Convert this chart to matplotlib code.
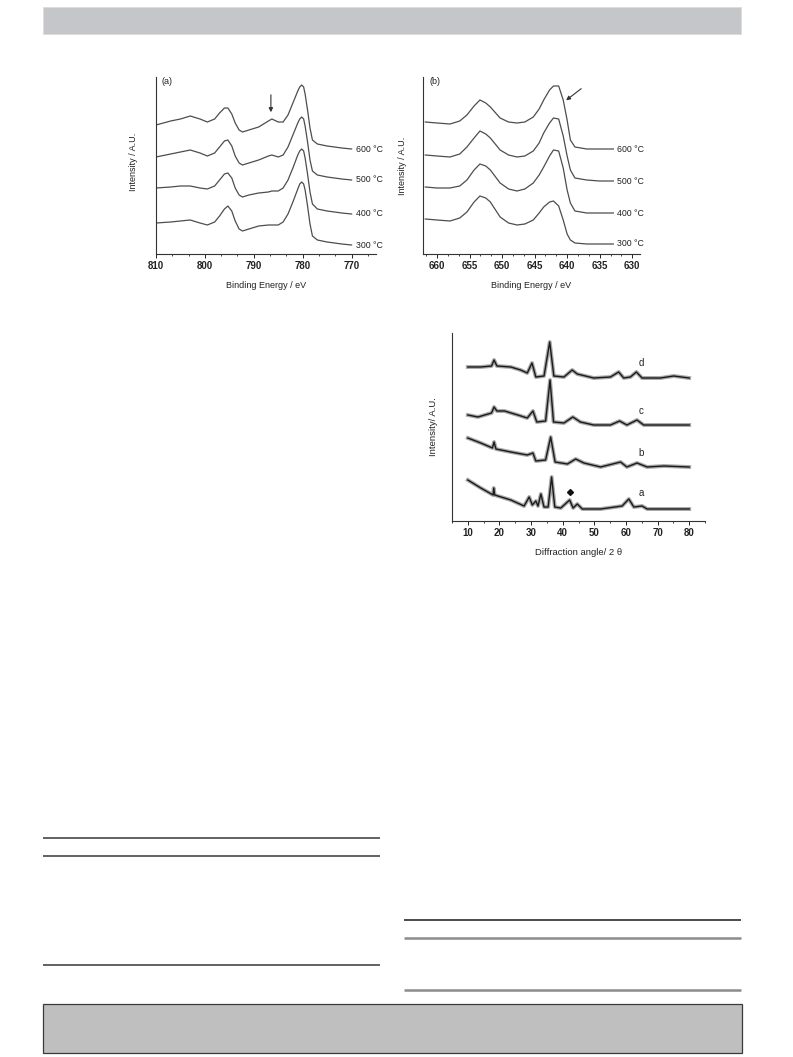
import numpy as np
import matplotlib
matplotlib.use('Agg')
import matplotlib.pyplot as plt
from matplotlib.patches import Rectangle
from matplotlib.ticker import MultipleLocator, AutoMinorLocator

plt.rcParams['font.family'] = ['Liberation Sans', 'DejaVu Sans']

W, H = 793, 1057

# ---- XPS (a): Co 2p region, offset traces (arb. units) ----
be_a = [810, 807, 805, 803, 801, 799.5, 798, 797, 796, 795.3, 794.5, 793.8, 793, 792.3,
        791, 789, 787, 786.3, 785, 784, 783, 782, 781, 780.6, 780.2, 779.8, 779.5, 779,
        778.5, 778, 777, 775, 772, 770]
a_300 = [31, 32, 33, 34, 31, 29, 32, 38, 45, 48, 43, 33, 25, 23,
         25, 28, 29, 29, 29, 32, 40, 52, 65, 70, 72, 70, 64, 48,
         30, 18, 14, 12, 10, 9]
a_400 = [66, 67, 68, 68, 66, 65, 68, 74, 80, 81, 76, 66, 59, 57,
         59, 61, 62, 63, 63, 66, 74, 86, 99, 103, 105, 103, 96, 80,
         62, 50, 45, 43, 41, 40]
a_500 = [97, 100, 102, 104, 101, 98, 101, 107, 113, 114, 108, 98, 91, 89,
         91, 94, 98, 99, 97, 99, 107, 119, 131, 135, 137, 135, 128, 112,
         94, 83, 79, 77, 75, 74]
a_600 = [129, 133, 135, 138, 135, 132, 135, 141, 146, 146, 140, 131, 124, 122,
         124, 127, 133, 135, 132, 132, 139, 151, 163, 167, 169, 167, 160, 144,
         126, 114, 110, 108, 106, 105]

# ---- XPS (b): Mn 2p region ----
be_b = [661.8, 660, 658, 656.5, 655.4, 654.3, 653.4, 652.5, 651.8, 650.3, 649, 647.7,
        646.5, 645.2, 644.3, 643.6, 642.7, 642.1, 641.3, 640.6, 640.0, 639.5, 638.8,
        637, 635, 632.9]
b_300 = [35, 34, 33, 36, 42, 52, 58, 56, 52, 37, 31, 29,
         30, 34, 41, 47, 52, 53, 48, 34, 20, 14, 11,
         10, 10, 10]
b_400 = [67, 66, 66, 68, 74, 84, 90, 88, 84, 71, 65, 63,
         65, 71, 79, 87, 98, 104, 103, 86, 64, 51, 43,
         41, 41, 41]
b_500 = [99, 98, 97, 100, 107, 116, 123, 120, 116, 104, 99, 97,
         98, 103, 111, 121, 131, 136, 135, 118, 98, 84, 76,
         74, 73, 73]
b_600 = [132, 131, 130, 133, 139, 148, 154, 151, 147, 136, 132, 131,
         132, 137, 145, 154, 164, 168, 168, 154, 134, 114, 107,
         105, 105, 105]

temps = ['300 °C', '400 °C', '500 °C', '600 °C']

# ---- XRD patterns a-d ----
tt_a = [10, 14.1, 18.0, 18.2, 18.5, 23.6, 27.8, 29.4, 30.4, 31.5, 32.2, 33.1, 34.1,
        35.4, 36.5, 37.5, 39.4, 42.2, 43.3, 44.6, 46.2, 52, 58.8, 60.9, 62.5, 65.1,
        66.7, 72, 80]
xrd_a = [41, 33, 26, 33, 26, 21, 15, 24, 16, 20, 15, 27, 14,
         14, 44, 14, 13, 21, 13, 17, 12, 12, 15, 22, 14, 15,
         12, 12, 12]
tt_b = [10, 14.1, 17.8, 18.3, 18.9, 23.6, 28.8, 30.6, 31.5, 34.6, 36.2, 37.6, 41.5,
        44.1, 46.7, 52, 58.3, 60.3, 63.5, 66.7, 72, 80]
xrd_b = [83, 78, 73, 79, 72, 69, 66, 68, 60, 61, 84, 59, 57,
         62, 58, 54, 59, 54, 58, 54, 55, 54]
tt_c = [10, 13.2, 17.5, 18.3, 19.2, 21.6, 25.8, 28.8, 30.6, 31.8, 34.6, 36.0, 37.1,
        40.4, 43.2, 45.6, 49.8, 55.1, 58.0, 60.3, 63.5, 65.6, 72, 80]
xrd_c = [106, 104, 108, 114, 110, 110, 106, 103, 110, 99, 100, 141, 99,
         98, 104, 99, 96, 96, 100, 96, 101, 96, 96, 96]
tt_d = [10, 14.1, 17.5, 18.3, 19.2, 23.6, 26.7, 28.8, 30.3, 31.5, 34.1, 35.9, 37.2,
        40.4, 43.0, 44.6, 49.8, 55.1, 57.7, 59.3, 61.4, 63.3, 65.1, 70.9, 75.1, 80]
xrd_d = [154, 154, 155, 161, 155, 154, 151, 148, 158, 144, 145, 179, 145,
         144, 151, 147, 143, 144, 149, 143, 144, 149, 143, 143, 145, 143]


def px_axes(fig, l, t, r, b):
    return fig.add_axes([l / W, 1 - b / H, (r - l) / W, (b - t) / H])


def style_axes(ax):
    for s in ['top', 'right']:
        ax.spines[s].set_visible(False)
    for s in ['left', 'bottom']:
        ax.spines[s].set_linewidth(0.8)
        ax.spines[s].set_color('#333333')
    ax.set_yticks([])
    ax.tick_params(axis='x', which='major', direction='out', length=2.6, width=0.7,
                   pad=2.2, labelsize=7, colors='#222222')
    ax.tick_params(axis='x', which='minor', direction='out', length=1.5, width=0.6,
                   colors='#222222')
    for lab in ax.get_xticklabels():
        lab.set_fontweight('bold')
    ax.patch.set_alpha(0)


fig = plt.figure(figsize=(W / 100, H / 100), dpi=100)

# page decoration layer in pixel coordinates
bg = fig.add_axes([0, 0, 1, 1], zorder=-5)
bg.set_xlim(0, W)
bg.set_ylim(H, 0)
bg.axis('off')
bg.add_patch(Rectangle((43, 7), 698, 27, facecolor='#c5c6ca', edgecolor='#dcdcdc', lw=0.6))
bg.add_patch(Rectangle((43, 1004), 699, 49, facecolor='#bfbfbf', edgecolor='#3a3a3a', lw=0.9))
for y in [838, 856, 965]:
    bg.plot([43, 380], [y, y], color='#555555', lw=1.3, solid_capstyle='butt')
bg.plot([404, 741], [920, 920], color='#1a1a1a', lw=1.1, solid_capstyle='butt')
for y in [938, 990]:
    bg.plot([404, 741], [y, y], color='#8c8c8c', lw=1.8, solid_capstyle='butt')

line_kw = dict(color='#4d4d4d', lw=0.9)

# ---- panel (a) ----
ax1 = px_axes(fig, 156, 77, 376, 254)
for ys, t in zip([a_300, a_400, a_500, a_600], temps):
    ax1.plot(be_a, ys, **line_kw)
    ax1.text(769, ys[-1], t, fontsize=6.3, va='center', ha='left', color='#222222')
ax1.set_xlim(810, 765)
ax1.set_ylim(0, 177)
ax1.xaxis.set_major_locator(MultipleLocator(10))
ax1.xaxis.set_minor_locator(AutoMinorLocator(3))
style_axes(ax1)
ax1.set_xlabel('Binding Energy / eV', fontsize=6.5, color='#222222')
ax1.set_ylabel('Intensity / A.U.', fontsize=6.5, color='#222222')
ax1.xaxis.set_label_coords(0.5, -0.155)
ax1.yaxis.set_label_coords(-0.082, 0.52)
ax1.text(808.8, 172, '(a)', fontsize=6.5, va='center', ha='left', color='#222222')
ax1.annotate('', xy=(786.5, 139), xytext=(786.5, 162),
             arrowprops=dict(arrowstyle='-|>', color='#333333', lw=0.8, mutation_scale=6))

# ---- panel (b) ----
ax2 = px_axes(fig, 423, 77, 640, 254)
for ys, t in zip([b_300, b_400, b_500, b_600], temps):
    ax2.plot(be_b, ys, **line_kw)
    ax2.text(632.3, ys[-1], t, fontsize=6.3, va='center', ha='left', color='#222222')
ax2.set_xlim(662.15, 628.8)
ax2.set_ylim(0, 177)
ax2.xaxis.set_major_locator(MultipleLocator(5))
ax2.xaxis.set_minor_locator(AutoMinorLocator(3))
style_axes(ax2)
ax2.set_xlabel('Binding Energy / eV', fontsize=6.5, color='#222222')
ax2.set_ylabel('Intensity / A.U.', fontsize=6.5, color='#222222')
ax2.xaxis.set_label_coords(0.5, -0.155)
ax2.yaxis.set_label_coords(-0.074, 0.5)
ax2.text(661.1, 172, '(b)', fontsize=6.5, va='center', ha='left', color='#222222')
ax2.annotate('', xy=(640.5, 152), xytext=(637.5, 167),
             arrowprops=dict(arrowstyle='-|>', color='#333333', lw=0.8, mutation_scale=6))

# ---- XRD panel ----
ax3 = px_axes(fig, 452, 333, 705, 521)
for tt, ys, lab, ly in zip([tt_a, tt_b, tt_c, tt_d], [xrd_a, xrd_b, xrd_c, xrd_d],
                           ['a', 'b', 'c', 'd'], [28, 68, 110, 158]):
    ax3.plot(tt, ys, color='#a8a8a8', lw=2.8, solid_joinstyle='round')
    ax3.plot(tt, ys, color='#1a1a1a', lw=1.0)
    ax3.text(64.0, ly, lab, fontsize=7, va='center', ha='left', color='#222222')
ax3.plot([42.2], [29], marker='D', ms=3, color='#111111', ls='none')
ax3.set_xlim(5, 85)
ax3.set_ylim(0, 188)
ax3.xaxis.set_major_locator(MultipleLocator(10))
ax3.xaxis.set_minor_locator(MultipleLocator(5))
style_axes(ax3)
ax3.set_xlabel('Diffraction angle/ 2 θ', fontsize=6.8, color='#222222')
ax3.set_ylabel('Intensity/ A.U.', fontsize=6.8, color='#222222')
ax3.xaxis.set_label_coords(0.5, -0.145)
ax3.yaxis.set_label_coords(-0.055, 0.5)

fig.savefig('out.png', dpi=100)
